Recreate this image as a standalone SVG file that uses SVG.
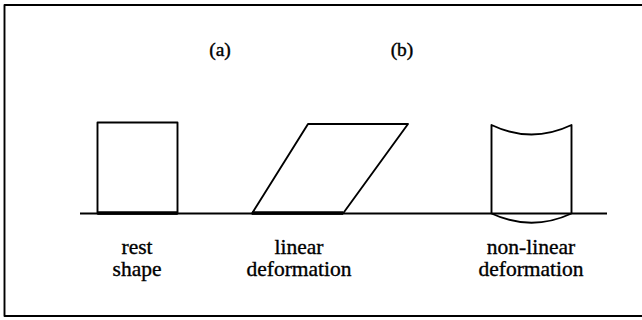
<svg xmlns="http://www.w3.org/2000/svg" width="642" height="320" viewBox="0 0 642 320">
<style>
.ln{fill:none;stroke:#000;stroke-width:1.9;stroke-linejoin:round}
.base{fill:none;stroke:#000;stroke-width:3.4}
.t{font-family:"Liberation Serif","Times New Roman",serif;font-size:21.5px;fill:#000;stroke:#000;stroke-width:0.35;text-anchor:middle}
.hd{font-family:"Liberation Serif","Times New Roman",serif;font-size:19.5px;fill:#000;stroke:#000;stroke-width:0.4;text-anchor:middle}
</style>
<rect width="642" height="320" fill="#fff"/>
<g id="frame">
<polyline class="ln" points="642,5 4.5,5 4.5,316 642,316"/>
</g>
<g id="ground">
<line class="ln" x1="80" y1="213.5" x2="607" y2="213.5" stroke-width="1.4"/>
</g>
<g id="labels">
<text class="hd" x="220" y="56">(a)</text>
<text class="hd" x="402" y="56">(b)</text>
</g>
<g id="rest">
<rect class="ln" x="97.5" y="122.5" width="80" height="91"/>
<line class="base" x1="97.5" y1="213" x2="177.5" y2="213"/>
<text class="t" x="137" y="254">rest</text>
<text class="t" x="137" y="276">shape</text>
</g>
<g id="linear">
<polygon class="ln" points="252,213.5 308,124 408,124 343,213.5"/>
<line class="base" x1="252" y1="213" x2="343" y2="213"/>
<text class="t" x="299" y="254">linear</text>
<text class="t" x="299" y="276">deformation</text>
</g>
<g id="nonlinear">
<path class="ln" d="M491.5,213.5 L491.5,125 Q531.5,144 571.5,125 L571.5,213.5"/>
<path class="ln" d="M491.5,213.5 Q531.5,232 571.5,213.5"/>
<text class="t" x="531" y="254">non-linear</text>
<text class="t" x="531" y="276">deformation</text>
</g>
</svg>
